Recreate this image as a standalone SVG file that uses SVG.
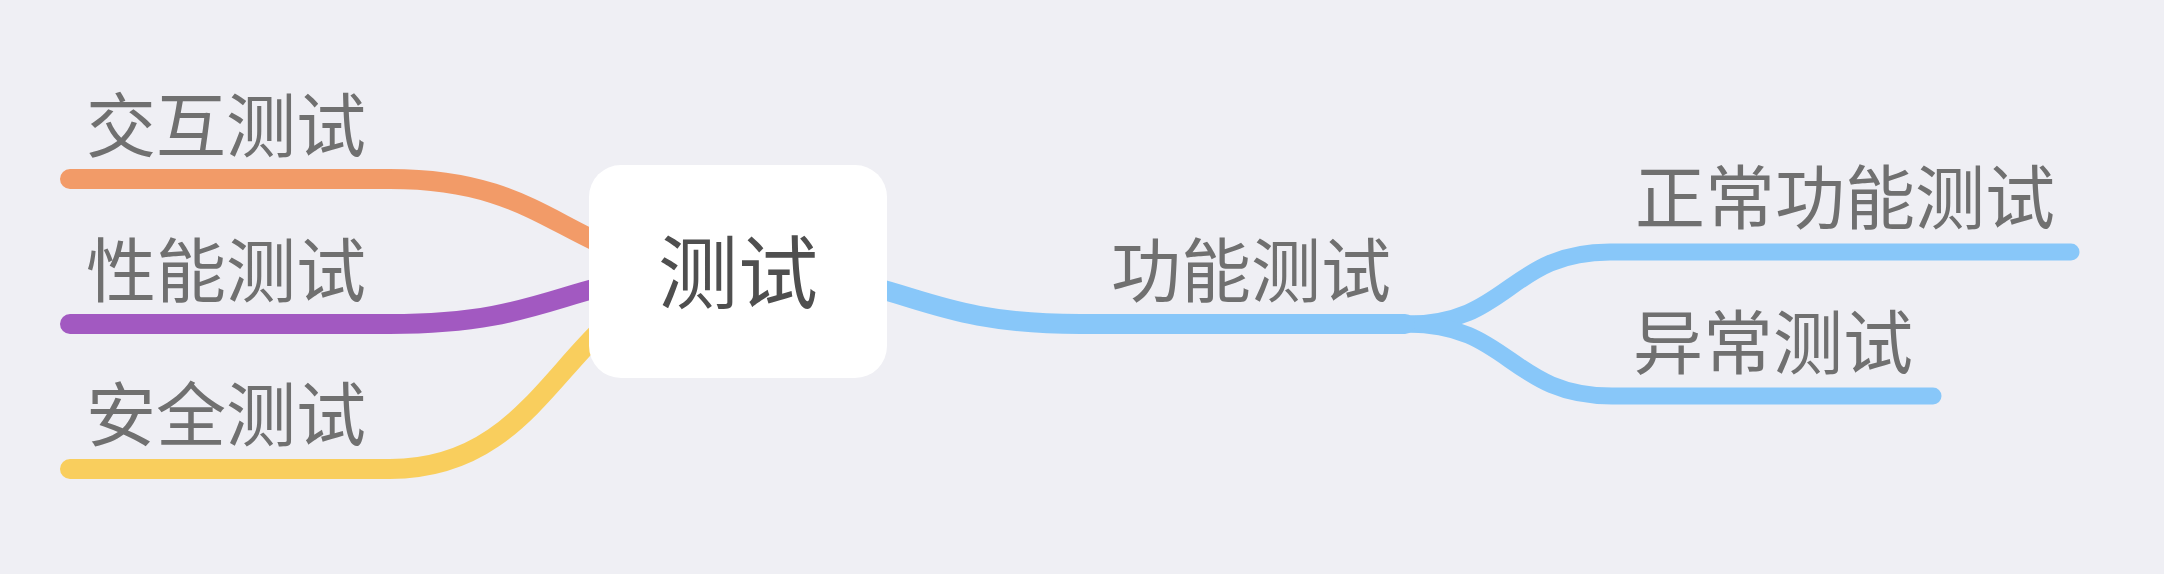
<svg xmlns="http://www.w3.org/2000/svg" width="2164" height="574" viewBox="0 0 2164 574">
<style>
.bg{fill:#EFEFF4}
.conn{fill:none;stroke-linecap:round;stroke-linejoin:round}
.l1{stroke-width:20}
.l2{stroke-width:17}
.t{font-family:"Noto Sans", "Noto Sans CJK SC", sans-serif;font-size:70px;fill:#707070}
.root{fill:#FFFFFF}
.rt{font-family:"Noto Sans", "Noto Sans CJK SC", sans-serif;font-size:80px;fill:#4F4F4F;text-anchor:middle}
</style>
<rect class="bg" x="0" y="0" width="2164" height="574"/>
<g id="connectors">
<path class="conn l1" stroke="#F29B68" d="M738 271 C564 271 564 179 390 179 L70 179"/>
<path class="conn l1" stroke="#A259C1" d="M738 271 C564 271 564 324 390 324 L70 324"/>
<path class="conn l1" stroke="#F9CE5D" d="M738 271 C564 271 564 469 390 469 L70 469"/>
<path class="conn l2" stroke="#88C7F9" d="M1408 324 C1509 324 1509 252 1610 252 L2071 252"/>
<path class="conn l2" stroke="#88C7F9" d="M1408 324 C1510 324 1510 396 1612 396 L1933 396"/>
<path class="conn l1" stroke="#88C7F9" d="M738 271 C909 271 909 324 1080 324 L1405 324"/>
</g>
<g id="node-root">
<rect class="root" x="589" y="165" width="298" height="213" rx="32" ry="32"/>
<text class="rt" x="738" y="302">测试</text>
</g>
<g id="node-interaction">
<text class="t" x="86" y="152">交互测试</text>
</g>
<g id="node-performance">
<text class="t" x="86" y="297">性能测试</text>
</g>
<g id="node-security">
<text class="t" x="86" y="441">安全测试</text>
</g>
<g id="node-function">
<text class="t" x="1111" y="297">功能测试</text>
</g>
<g id="node-normal">
<text class="t" x="1635" y="224">正常功能测试</text>
</g>
<g id="node-abnormal">
<text class="t" x="1633" y="369">异常测试</text>
</g>
</svg>
